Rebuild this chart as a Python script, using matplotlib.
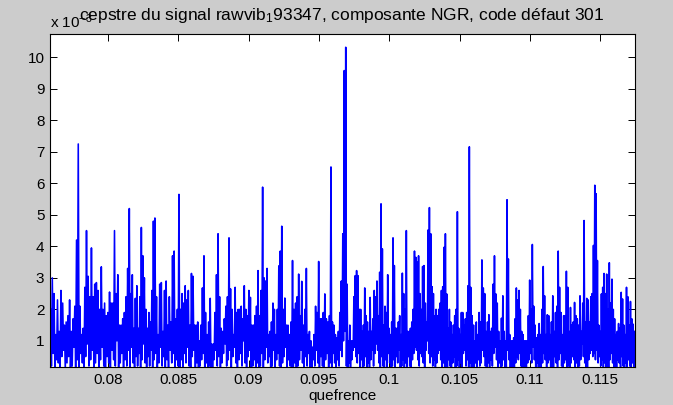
import numpy as np
import matplotlib
matplotlib.use("Agg")
import matplotlib.pyplot as plt

plt.rcParams["font.family"] = ["Liberation Sans", "DejaVu Sans"]
plt.rcParams["mathtext.fontset"] = "custom"
plt.rcParams["mathtext.rm"] = "Liberation Sans"
plt.rcParams["mathtext.it"] = "Liberation Sans"
plt.rcParams["mathtext.bf"] = "Liberation Sans"

# Cepstrum amplitude (x 1e-3): local maxima of each oscillation, in order
peaks_a = [2.0, 3.0, 2.5, 1.2, 2.3, 1.3, 2.6, 2.2, 1.5, 1.6,
           1.8, 2.3, 1.3, 1.7, 2.1, 4.2, 7.25, 2.1, 1.2, 1.4,
           2.7, 4.5, 3.05, 2.4, 3.95, 2.4, 2.8, 2.85, 2.6, 2.0,
           3.35, 2.0, 2.2, 1.8, 1.9, 2.55, 2.2, 2.2, 4.5, 2.5,
           3.1, 1.5, 1.5, 1.7, 1.9, 2.4, 3.3, 5.2, 2.5, 3.1,
           1.4, 2.35, 2.75, 1.4, 2.4, 4.6, 3.7, 3.0, 2.0, 1.4,
           1.9, 1.6, 2.6, 4.8, 4.9, 2.4, 1.2, 2.8, 2.85, 1.3,
           2.6, 2.9, 1.5, 2.4, 1.6, 3.7, 3.85, 1.7, 2.0, 5.65]
peaks_b = [2.0, 2.5, 2.2, 2.75, 2.3, 2.6, 1.5, 3.14, 3.05, 1.5,
           1.5, 1.6, 1.0, 1.5, 2.68, 3.7, 1.9, 1.2, 1.6, 2.35,
           0.9, 0.9, 1.9, 3.1, 4.4, 2.4, 1.4, 1.3, 1.7, 2.1,
           2.4, 4.27, 2.65, 2.0, 1.2, 2.7, 1.9, 2.0, 2.0, 2.1,
           1.7, 2.75, 2.0, 1.8, 2.6, 2.38, 1.5, 1.5, 1.8, 2.1,
           3.23, 1.8, 2.6, 5.88, 3.0, 2.9, 3.3, 1.2, 1.3, 1.6,
           2.2, 2.0, 1.2, 2.0, 3.38, 3.85, 4.64, 2.0, 2.36, 1.5,
           1.5, 1.2, 1.6, 3.55, 2.0, 2.2, 2.4, 3.12, 1.8, 2.89,
           1.5, 2.0, 3.3, 1.2, 1.3, 1.0, 0.8, 1.2, 2.1, 1.9,
           3.52, 1.7, 1.7, 1.9, 2.49, 1.7, 1.6, 1.8]
peaks_c = [6.52, 1.6, 1.5, 1.2, 1.1, 1.3, 1.9, 2.9, 4.4, 9.58,
           10.32, 2.8, 1.0, 1.5, 1.0, 1.0, 2.4, 3.07, 3.23, 3.07,
           2.0, 2.0, 1.3, 1.5, 2.68, 1.8, 1.6, 1.3, 2.38, 1.3,
           1.7, 2.6, 2.4, 2.9, 1.8, 3.18, 5.35, 3.92, 1.5, 2.1,
           1.9, 3.1, 1.4, 1.2, 1.6, 4.27, 3.39, 1.4, 1.4, 1.6,
           1.8, 1.2, 3.15, 2.5, 2.0, 4.5, 1.3, 1.3, 1.4, 1.6,
           2.0, 3.85, 3.65, 3.5, 3.7, 2.5, 2.0, 3.36, 3.39, 2.2,
           1.6, 4.52, 5.23, 4.4, 2.72, 2.5, 1.8, 2.0, 1.8, 2.0,
           2.2, 2.6, 2.72, 3.97, 4.4, 2.49, 1.4, 2.0, 1.6, 1.2,
           1.5, 1.8, 2.0, 5.1, 1.4, 1.2, 1.9, 1.9, 1.5, 1.7,
           1.9, 2.75, 7.16, 2.7, 1.8, 1.5, 1.0, 1.6, 1.2, 1.9]
peaks_d = [1.6, 3.57, 2.68, 2.5, 1.3, 1.6, 1.83, 1.3, 1.4, 2.8,
           3.7, 2.49, 2.2, 1.3, 1.0, 1.72, 2.43, 1.3, 1.0, 5.48,
           3.6, 1.2, 1.0, 1.0, 1.1, 1.7, 2.68, 2.3, 2.6, 2.0,
           1.3, 1.2, 1.0, 1.0, 1.0, 1.8, 2.93, 2.0, 4.06, 2.1,
           1.5, 1.1, 1.2, 1.55, 1.2, 2.0, 3.36, 2.43, 1.2, 1.83,
           1.8, 1.2, 1.6, 2.43, 1.3, 1.9, 2.1, 3.85, 2.7, 1.9,
           1.2, 1.8, 1.8, 3.21, 2.7, 1.3, 2.06, 1.5, 1.6, 2.22,
           1.8, 1.7, 1.5, 2.43, 1.3, 2.2, 4.82, 1.6, 2.35, 2.3,
           1.6, 2.4, 2.5, 4.03, 5.94, 5.67, 3.55, 1.5, 1.3, 2.49,
           2.7, 3.14, 2.5, 3.12, 2.0, 3.48, 2.2, 2.96, 2.0, 1.7,
           1.2, 1.3, 1.55, 1.4, 2.54, 2.33, 1.5, 1.2, 2.7, 2.4,
           1.5, 2.25, 1.7, 1.53, 1.3]

# Local minima following each maximum
troughs_a = [0.2, 0.6, 0.1, 0.4, 0.3, 0.1, 0.5, 0.7, 0.1, 0.3, 0.5, 0.1, 0.2, 0.8, 0.1, 0.4, 0.1, 0.6, 0.3, 0.1,
             0.5, 0.9, 0.2, 0.4, 0.7, 0.1, 0.3, 0.6, 0.1, 0.4, 0.8, 0.2, 0.1, 0.5, 0.3, 0.1, 0.7, 0.4, 0.2, 1.0,
             0.1, 0.3, 0.6, 0.1, 0.4, 0.2, 0.7, 0.1, 0.8, 0.3, 0.1, 0.5, 0.2, 0.6, 0.1, 0.4, 0.9, 0.3, 0.1, 0.5,
             0.2, 0.7, 0.1, 0.4, 0.6, 0.1, 0.3, 0.8, 0.2, 0.5, 0.1, 0.4, 0.1, 0.7, 0.3, 0.6, 0.1, 0.4, 0.2, 0.1]
troughs_b = [0.4, 0.1, 0.6, 0.3, 0.8, 0.2, 0.1, 0.5, 0.7, 0.1, 0.3, 0.1, 0.2, 0.4, 0.6, 0.1, 0.3, 0.1, 0.2, 0.1,
             0.1, 0.4, 0.7, 0.2, 0.5, 0.1, 0.3, 0.6, 0.9, 0.2, 0.4, 0.7, 0.1, 0.5, 0.8, 0.3, 0.1, 0.4, 0.6, 0.2,
             1.0, 0.3, 0.1, 0.5, 0.7, 0.1, 0.2, 0.4, 0.1, 0.3, 0.1, 0.2, 0.6, 0.1, 0.4, 0.8, 0.3, 0.5, 0.1, 0.2,
             0.7, 0.1, 0.4, 0.6, 0.2, 0.1, 0.3, 0.5, 0.8, 0.1, 0.4, 0.2, 0.1, 0.1, 0.3, 0.1, 0.2, 0.4, 0.7, 0.3,
             0.1, 0.5, 0.2, 0.6, 0.1, 0.1, 0.4, 0.2, 0.7, 0.3, 0.1, 0.5, 0.2, 0.1, 0.4, 0.6, 0.1, 0.3]
troughs_c = [0.1, 0.6, 0.3, 0.1, 0.4, 0.2, 0.7, 0.5, 1.0, 1.3, 0.2, 0.1, 0.3, 0.1, 0.4, 0.7, 0.8, 0.5, 0.3, 0.6,
             0.1, 0.4, 0.1, 0.2, 0.5, 0.1, 0.3, 0.1, 0.4, 0.7, 0.2, 0.6, 0.9, 0.7, 0.3, 0.1, 0.5, 0.2, 0.1, 0.4,
             0.1, 0.6, 0.3, 0.1, 0.2, 0.4, 0.1, 0.5, 0.3, 0.7, 0.1, 0.2, 0.4, 0.1, 0.3, 0.1, 0.5, 0.2, 0.1, 0.4,
             0.6, 0.8, 0.7, 0.4, 0.2, 0.6, 0.5, 0.3, 0.1, 0.7, 1.0, 0.6, 0.3, 0.5, 0.2, 0.4, 0.1, 0.3, 0.6, 0.7,
             0.4, 0.1, 0.3, 0.1, 0.2, 0.1, 0.4, 0.2, 0.1, 0.3, 0.5, 0.1, 0.2, 0.4, 0.1, 0.3, 0.1, 0.6, 0.7, 0.2,
             0.4, 0.1, 0.3, 0.1, 0.2, 0.1, 0.3, 0.1, 0.4, 0.2]
troughs_d = [0.3, 0.7, 0.5, 0.2, 0.1, 0.3, 0.1, 0.4, 0.2, 0.6, 0.8, 0.4, 0.1, 0.3, 0.1, 0.2, 0.4, 0.1, 0.1, 0.7,
             0.4, 0.1, 0.1, 0.2, 0.1, 0.3, 0.5, 0.4, 0.6, 0.2, 0.1, 0.1, 0.2, 0.1, 0.3, 0.4, 0.6, 0.3, 0.8, 0.4,
             0.1, 0.3, 0.1, 0.2, 0.1, 0.3, 0.6, 0.4, 0.1, 0.3, 0.4, 0.1, 0.2, 0.1, 0.5, 0.3, 0.1, 0.4, 0.6, 0.2,
             0.1, 0.3, 0.4, 0.1, 0.2, 0.1, 0.3, 0.5, 0.4, 0.1, 0.3, 0.1, 0.2, 0.4, 0.9, 0.5, 0.3, 0.1, 0.1, 0.4,
             0.6, 0.7, 0.5, 0.6, 0.4, 0.7, 0.3, 0.5, 0.2, 0.4, 0.1, 0.3, 0.1, 0.2, 0.1, 0.4, 0.6, 0.3, 0.1, 0.2,
             0.1, 0.4, 0.3, 0.1, 0.5, 0.2, 0.1, 0.3, 0.1, 0.4, 0.2, 0.1, 0.3, 0.1, 0.4]

# Quefrency of selected maxima (index into the maxima sequence)
anchor_idx = [0, 16, 47, 64, 79, 104, 111, 133, 146, 178, 188,
              214, 233, 250, 271, 280, 307, 326, 364, 372, 402]
anchor_q = [0.07592, 0.07789, 0.08152, 0.08334, 0.08505, 0.08783, 0.08861,
            0.09100, 0.09236, 0.09586, 0.09691, 0.09942, 0.10122, 0.10286,
            0.10485, 0.10570, 0.10838, 0.11018, 0.11386, 0.11462, 0.11744]

x_ticks = [0.08, 0.085, 0.09, 0.095, 0.1, 0.105, 0.11, 0.115]
x_ticklabels = ["0.08", "0.085", "0.09", "0.095", "0.1", "0.105", "0.11", "0.115"]
y_ticks = [1, 2, 3, 4, 5, 6, 7, 8, 9, 10]

title = "cepstre du signal rawvib$_1$93347, composante NGR, code défaut 301"

peaks = np.array(peaks_a + peaks_b + peaks_c + peaks_d)
troughs = np.array(troughs_a + troughs_b + troughs_c + troughs_d)
n = min(len(peaks), len(troughs))
signal = np.column_stack([peaks[:n], troughs[:n]]).ravel()[:-1]
k = np.arange(signal.size) / 2.0
quef = np.interp(k, anchor_idx, anchor_q)

fig = plt.figure(figsize=(6.73, 4.05), dpi=100, facecolor="#cccccc")
ax = fig.add_axes([50 / 673, 1 - 367 / 405, 585 / 673, 333 / 405])
ax.set_facecolor("white")
ax.plot(quef, signal, color="#0000ff", lw=1.15)

ax.set_xlim(0.07588, 0.11748)
ax.set_ylim(0.17, 10.74)
ax.set_xticks(x_ticks)
ax.set_xticklabels(x_ticklabels)
ax.set_yticks(y_ticks)
ax.tick_params(direction="in", top=True, right=True, length=5, width=0.7,
               labelsize=11, colors="black", pad=4)
for s in ax.spines.values():
    s.set_linewidth(0.8)
    s.set_color("black")
ax.set_xlabel("quefrence", fontsize=11, labelpad=2)

fig.text(50 / 673, 1 - 28 / 405, "x 10$^{-3}$", fontsize=11, ha="left", va="baseline")
fig.text(342 / 673, 1 - 20 / 405, title, fontsize=12.5, ha="center", va="baseline")

fig.savefig("out.png", dpi=100, facecolor=fig.get_facecolor())
